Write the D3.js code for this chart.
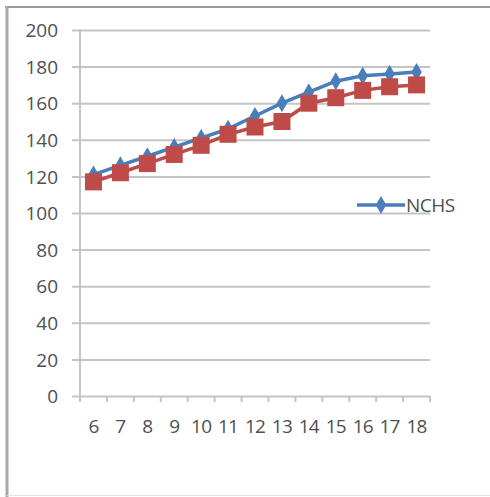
<!DOCTYPE html>
<html lang="en">
<head>
    <meta charset="UTF-8">
    <script src="https://cdnjs.cloudflare.com/ajax/libs/d3/7.8.5/d3.min.js"></script>
    <title>NCHS</title>
    <style>
        body { margin: 0; background: white; font-family: 'Open Sans', 'Liberation Sans', sans-serif; }
        .axis text { fill: #4f4f4f; font-size: 19px; font-family: 'Open Sans', 'Liberation Sans', sans-serif; }
        .grid line { stroke: #c4c4c4; stroke-width: 2px; }
        .grid path { display: none; }
    </style>
</head>
<body>
<svg></svg>
<script>
    const ages = [6, 7, 8, 9, 10, 11, 12, 13, 14, 15, 16, 17, 18]
    const nchs = [121, 126, 131, 136, 141, 146, 153, 160, 166, 172, 175, 176, 177]
    const sample = [117, 122, 127, 132, 137, 143, 147, 150, 160, 163, 167, 169, 170]
    const yTicks = [0, 20, 40, 60, 80, 100, 120, 140, 160, 180, 200]

    const W = 490, H = 497
    const margin = { top: 30, left: 80, right: 60, bot: 101 }

    const svg = d3.select('svg')
        .attr('width', W)
        .attr('height', H)

    // outer frame
    svg.append('line').attr('x1', 5).attr('x2', W).attr('y1', 7).attr('y2', 7)
        .attr('stroke', '#9a9a9a').attr('stroke-width', 2)
    svg.append('line').attr('x1', 7).attr('x2', 7).attr('y1', 6).attr('y2', H)
        .attr('stroke', '#a8a8a8').attr('stroke-width', 3)
    svg.append('line').attr('x1', 7).attr('x2', W).attr('y1', 495.5).attr('y2', 495.5)
        .attr('stroke', '#e4e4e4').attr('stroke-width', 1)

    const xScale = d3.scaleBand()
        .domain(ages)
        .range([margin.left, W - margin.right])

    const yScale = d3.scaleLinear()
        .domain([0, 200])
        .range([H - margin.bot, margin.top])

    // gridlines
    svg.append('g')
        .attr('class', 'grid')
        .attr('transform', 'translate(' + margin.left + ',0)')
        .call(d3.axisLeft(yScale).tickValues(yTicks).tickSize(-(W - margin.right - margin.left)).tickFormat(''))
    svg.selectAll('.grid .tick line').attr('x1', -8)

    // y axis labels + line
    const yAxis = svg.append('g')
        .attr('class', 'axis')
        .attr('transform', 'translate(' + margin.left + ',0)')
        .call(d3.axisLeft(yScale).tickValues(yTicks).tickSize(0).tickPadding(22))
    yAxis.select('.domain').remove()
    yAxis.selectAll('text').attr('dy', '0.35em')

    svg.append('line')
        .attr('x1', margin.left).attr('x2', margin.left)
        .attr('y1', margin.top).attr('y2', H - margin.bot + 6)
        .attr('stroke', '#c4c4c4').attr('stroke-width', 2)

    // x axis ticks at band edges
    const edges = ages.map(a => xScale(a)).concat([W - margin.right])
    svg.selectAll('.xtick')
        .data(edges)
        .enter()
        .append('line')
        .attr('x1', d => d).attr('x2', d => d)
        .attr('y1', H - margin.bot).attr('y2', H - margin.bot + 6)
        .attr('stroke', '#c4c4c4').attr('stroke-width', 2)

    const xAxis = svg.append('g')
        .attr('class', 'axis')
        .attr('transform', 'translate(0,' + (H - margin.bot) + ')')
        .call(d3.axisBottom(xScale).tickSize(0).tickPadding(24))
    xAxis.select('.domain').remove()
    xAxis.selectAll('text').attr('letter-spacing', '-0.8px')

    const cx = d => xScale(d) + xScale.bandwidth() / 2
    const line = d3.line().x((d, i) => cx(ages[i])).y(d => yScale(d))

    // NCHS series (blue)
    svg.append('path')
        .datum(nchs)
        .attr('d', line)
        .attr('fill', 'none')
        .attr('stroke', '#4a7ebb')
        .attr('stroke-width', 3.5)

    const diamond = d3.symbol().type(d3.symbolDiamond).size(95)
    svg.selectAll('.dia')
        .data(nchs)
        .enter()
        .append('path')
        .attr('d', diamond)
        .attr('transform', (d, i) => 'translate(' + cx(ages[i]) + ',' + yScale(d) + ')')
        .attr('fill', '#4a7ebb')

    // second series (red)
    svg.append('path')
        .datum(sample)
        .attr('d', line)
        .attr('fill', 'none')
        .attr('stroke', '#be4b48')
        .attr('stroke-width', 3.5)

    const sq = 17
    svg.selectAll('.sq')
        .data(sample)
        .enter()
        .append('rect')
        .attr('x', (d, i) => cx(ages[i]) - sq / 2)
        .attr('y', d => yScale(d) - sq / 2)
        .attr('width', sq)
        .attr('height', sq)
        .attr('fill', '#be4b48')

    // legend
    const ly = 205
    svg.append('line')
        .attr('x1', 357).attr('x2', 405).attr('y1', ly).attr('y2', ly)
        .attr('stroke', '#4a7ebb').attr('stroke-width', 3.5)
    svg.append('path')
        .attr('d', diamond)
        .attr('transform', 'translate(381,' + ly + ')')
        .attr('fill', '#4a7ebb')
    svg.append('text')
        .attr('x', 406).attr('y', ly + 7)
        .attr('fill', '#4f4f4f')
        .style('font-size', '19px')
        .attr('letter-spacing', '-0.5px')
        .text('NCHS')
</script>
</body>
</html>
